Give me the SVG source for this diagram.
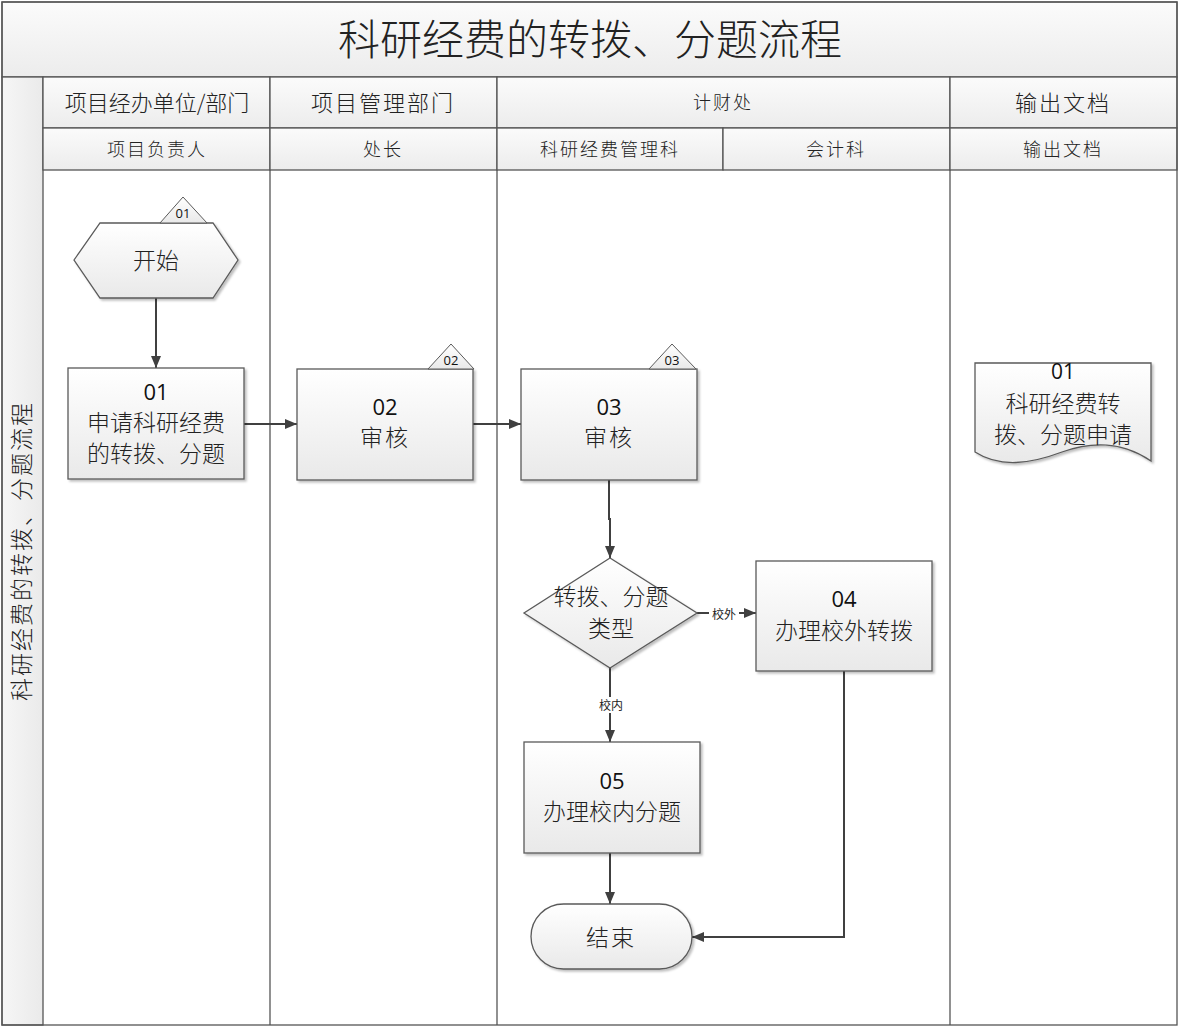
<svg xmlns="http://www.w3.org/2000/svg" width="1182" height="1029" viewBox="0 0 1182 1029">
<defs>
<linearGradient id="g" x1="0" y1="0" x2="0" y2="1"><stop offset="0" stop-color="#ffffff"/><stop offset="1" stop-color="#e9e9e9"/></linearGradient>
<linearGradient id="gh" x1="0" y1="0" x2="0" y2="1"><stop offset="0" stop-color="#fbfbfb"/><stop offset="1" stop-color="#ececec"/></linearGradient>
<linearGradient id="gv" x1="0" y1="0" x2="1" y2="0"><stop offset="0" stop-color="#f6f6f6"/><stop offset="1" stop-color="#eaeaea"/></linearGradient>
<filter id="sh" x="-10%" y="-10%" width="130%" height="130%"><feDropShadow dx="2" dy="2" stdDeviation="1.2" flood-color="#000" flood-opacity="0.25"/></filter>
<marker id="ar" viewBox="0 0 12 10" refX="12" refY="5" markerWidth="12" markerHeight="10" markerUnits="userSpaceOnUse" orient="auto"><path d="M0,0 L12,5 L0,10 z" fill="#404040"/></marker>
<style>
.frame{fill:none;stroke:#555;stroke-width:1.3}
.hd{fill:url(#gh);stroke:#555;stroke-width:1.3}
.node{fill:url(#g);stroke:#5a5a5a;stroke-width:1.3;filter:url(#sh)}
.tag{fill:url(#g);stroke:#5a5a5a;stroke-width:1}
.cn{font-family:"Noto Sans CJK SC","Noto Sans",sans-serif;fill:#222;text-anchor:middle}
.num{font-family:"Open Sans","Liberation Sans",sans-serif;fill:#111;text-anchor:middle}
.ln{fill:none;stroke:#404040;stroke-width:2}
</style>
</defs>
<rect width="1182" height="1029" fill="#ffffff"/>
<g id="frame">
<rect x="2" y="2" width="1175" height="75" fill="url(#gh)" stroke="#555" stroke-width="1.3"/>
<text class="cn" x="590" y="55" font-size="42" font-weight="300">科研经费的转拨、分题流程</text>
<rect x="2" y="77" width="41" height="948" fill="url(#gv)" stroke="#555" stroke-width="1.3"/>
<text class="cn" transform="translate(30,551) rotate(-90)" font-size="23" font-weight="300" letter-spacing="2">科研经费的转拨、分题流程</text>
<rect class="hd" x="43" y="77" width="227" height="51"/>
<rect class="hd" x="270" y="77" width="227" height="51"/>
<rect class="hd" x="497" y="77" width="453" height="51"/>
<rect class="hd" x="950" y="77" width="227" height="51"/>
<rect class="hd" x="43" y="128" width="227" height="42"/>
<rect class="hd" x="270" y="128" width="227" height="42"/>
<rect class="hd" x="497" y="128" width="226" height="42"/>
<rect class="hd" x="723" y="128" width="227" height="42"/>
<rect class="hd" x="950" y="128" width="227" height="42"/>
<text class="cn" x="157" y="111" font-size="22" font-weight="300">项目经办单位/部门</text>
<text class="cn" x="383" y="111" font-size="22" font-weight="300" letter-spacing="2">项目管理部门</text>
<text class="cn" x="723" y="109" font-size="18" font-weight="300" letter-spacing="2">计财处</text>
<text class="cn" x="1063" y="111" font-size="22" font-weight="300" letter-spacing="2">输出文档</text>
<text class="cn" x="157" y="156" font-size="18" font-weight="300" letter-spacing="2">项目负责人</text>
<text class="cn" x="383" y="156" font-size="18" font-weight="300" letter-spacing="2">处长</text>
<text class="cn" x="610" y="156" font-size="18" font-weight="300" letter-spacing="2">科研经费管理科</text>
<text class="cn" x="836" y="156" font-size="18" font-weight="300" letter-spacing="2">会计科</text>
<text class="cn" x="1063" y="156" font-size="18" font-weight="300" letter-spacing="2">输出文档</text>
<line class="frame" x1="270" y1="170" x2="270" y2="1025"/>
<line class="frame" x1="497" y1="170" x2="497" y2="1025"/>
<line class="frame" x1="950" y1="170" x2="950" y2="1025"/>
<rect class="frame" x="2" y="2" width="1175" height="1023"/>
</g>
<g id="connectors">
<line class="ln" x1="156" y1="298" x2="156" y2="368" marker-end="url(#ar)"/>
<line class="ln" x1="244" y1="424" x2="297" y2="424" marker-end="url(#ar)"/>
<line class="ln" x1="473" y1="424" x2="521" y2="424" marker-end="url(#ar)"/>
<polyline class="ln" points="609,480 609,519 610,519 610,558" marker-end="url(#ar)"/>
<line class="ln" x1="697" y1="613" x2="756" y2="613" marker-end="url(#ar)"/>
<line class="ln" x1="610" y1="668" x2="610" y2="742" marker-end="url(#ar)"/>
<line class="ln" x1="610" y1="853" x2="610" y2="904" marker-end="url(#ar)"/>
<polyline class="ln" points="844,671 844,937 692,937" marker-end="url(#ar)"/>
<rect x="709" y="606" width="30" height="16" fill="#ffffff"/>
<text class="cn" x="724" y="619" font-size="12">校外</text>
<rect x="596" y="697" width="30" height="16" fill="#ffffff"/>
<text class="cn" x="611" y="710" font-size="12">校内</text>
</g>
<g id="start">
<polygon class="node" points="74,260 100,223 213,223 238,260 213,298 100,298"/>
<polygon class="tag" points="160,223 183,197 207,223"/>
<text class="num" x="183" y="218" font-size="13">01</text>
<text class="cn" x="156" y="269" font-size="23" font-weight="300">开始</text>
</g>
<g id="n01">
<rect class="node" x="68" y="368" width="176" height="111"/>
<text class="num" x="156" y="400" font-size="22">01</text>
<text class="cn" x="156" y="431" font-size="23" font-weight="300">申请科研经费</text>
<text class="cn" x="156" y="462" font-size="23" font-weight="300">的转拨、分题</text>
</g>
<g id="n02">
<rect class="node" x="297" y="369" width="176" height="111"/>
<polygon class="tag" points="428,369 451,344 474,369"/>
<text class="num" x="451" y="365" font-size="13">02</text>
<text class="num" x="385" y="415" font-size="22">02</text>
<text class="cn" x="385" y="446" font-size="23" font-weight="300" letter-spacing="2">审核</text>
</g>
<g id="n03">
<rect class="node" x="521" y="369" width="176" height="111"/>
<polygon class="tag" points="649,369 672,344 696,369"/>
<text class="num" x="672" y="365" font-size="13">03</text>
<text class="num" x="609" y="415" font-size="22">03</text>
<text class="cn" x="609" y="446" font-size="23" font-weight="300" letter-spacing="2">审核</text>
</g>
<g id="decision">
<polygon class="node" points="610,558 697,613 610,668 524,613"/>
<text class="cn" x="611" y="605" font-size="23" font-weight="300">转拨、分题</text>
<text class="cn" x="611" y="637" font-size="23" font-weight="300">类型</text>
</g>
<g id="n04">
<rect class="node" x="756" y="561" width="176" height="110"/>
<text class="num" x="844" y="607" font-size="22">04</text>
<text class="cn" x="844" y="639" font-size="23" font-weight="300">办理校外转拨</text>
</g>
<g id="n05">
<rect class="node" x="524" y="742" width="176" height="111"/>
<text class="num" x="612" y="789" font-size="22">05</text>
<text class="cn" x="612" y="820" font-size="23" font-weight="300">办理校内分题</text>
</g>
<g id="end">
<rect class="node" x="531" y="904" width="161" height="65" rx="32.5" ry="32.5"/>
<text class="cn" x="611" y="946" font-size="23" font-weight="300" letter-spacing="2">结束</text>
</g>
<g id="doc01">
<path class="node" d="M975,363 L1151,363 L1151,461 C1120,440 1090,442 1062,452 C1030,464 1000,468 975,452 Z"/>
<text class="num" x="1063" y="379" font-size="21">01</text>
<text class="cn" x="1063" y="412" font-size="23" font-weight="300">科研经费转</text>
<text class="cn" x="1063" y="443" font-size="23" font-weight="300">拨、分题申请</text>
</g>
</svg>
